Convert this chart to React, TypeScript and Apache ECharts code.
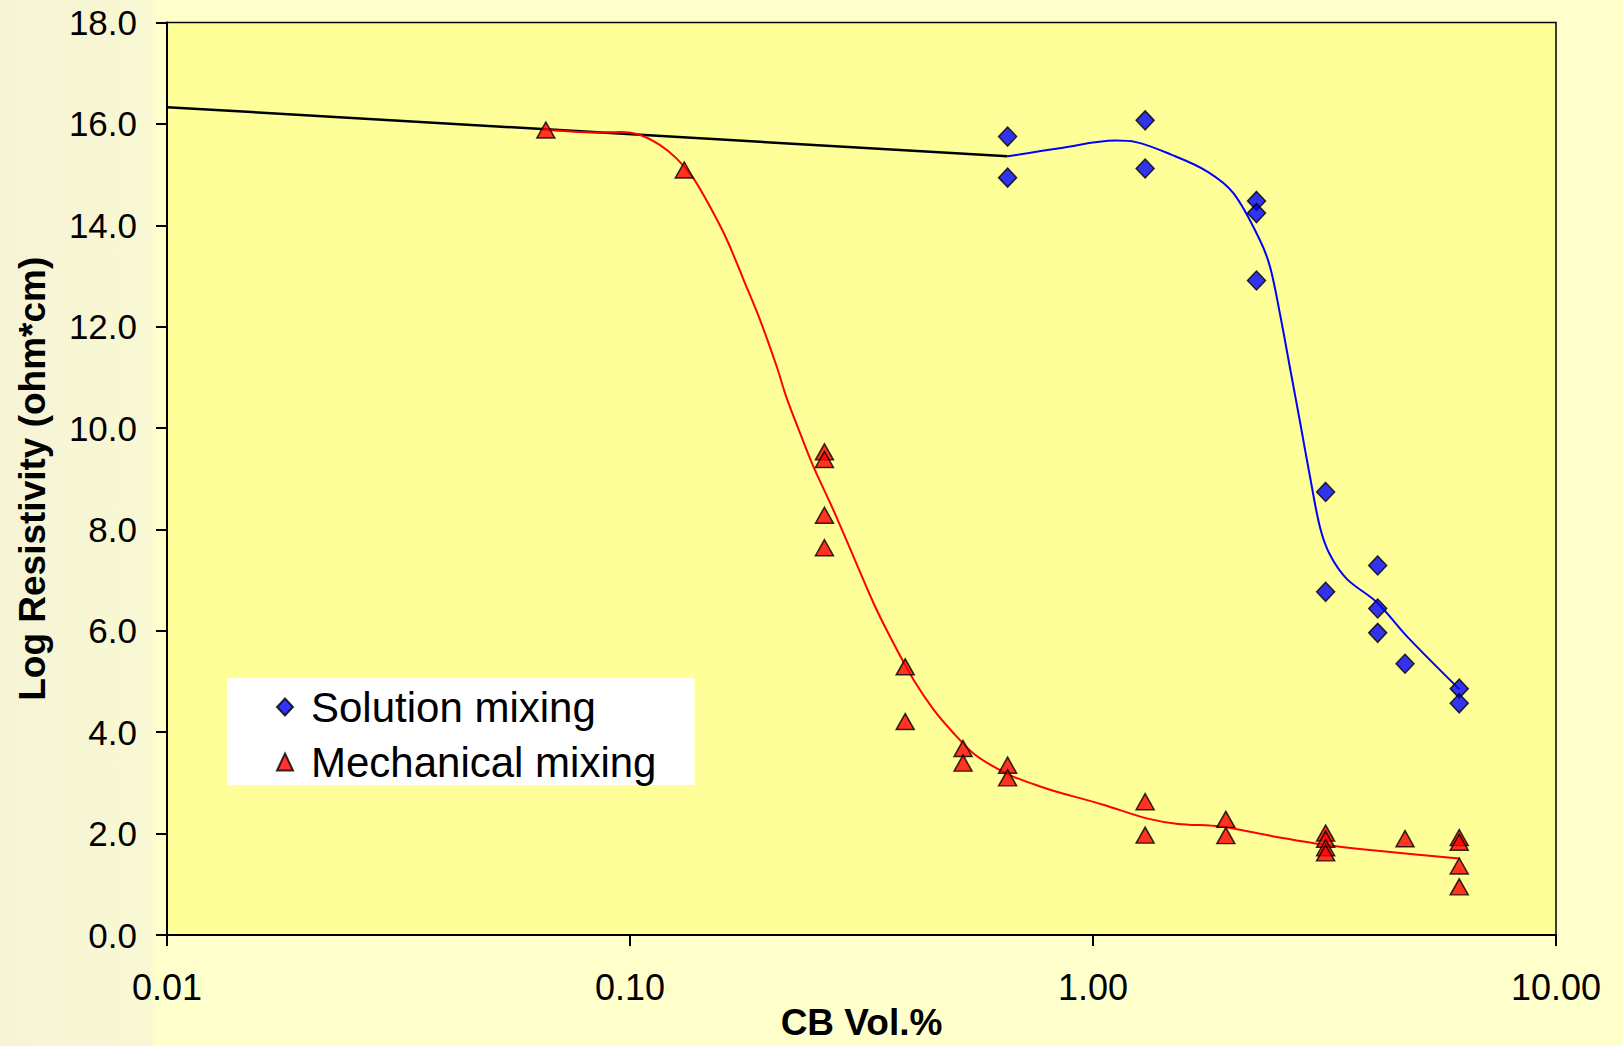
import React, { useEffect, useRef } from "react";
import * as echarts from "echarts";

// Solution mixing (diamonds)
const solutionX = [0.654, 0.654, 1.296, 1.296, 2.255, 2.255, 2.255, 3.18, 3.18, 4.12, 4.12, 4.12, 4.72, 6.18, 6.18];
const solutionY = [15.75, 14.94, 16.07, 15.12, 14.48, 14.24, 12.91, 8.74, 6.77, 7.29, 6.44, 5.96, 5.35, 4.86, 4.57];

// Mechanical mixing (triangles)
const mechX = [0.0658, 0.131, 0.263, 0.263, 0.263, 0.263, 0.393, 0.393, 0.524, 0.524, 0.654, 0.654, 1.296, 1.296, 1.936, 1.936, 3.18, 3.18, 3.18, 3.18, 4.72, 6.18, 6.18, 6.18, 6.18];
const mechY = [15.88, 15.09, 9.53, 9.38, 8.28, 7.64, 5.29, 4.21, 3.68, 3.39, 3.35, 3.10, 2.63, 1.97, 2.28, 1.96, 2.01, 1.89, 1.72, 1.62, 1.90, 1.92, 1.83, 1.36, 0.95];

// Black trend segment
const blackX = [0.01, 0.654];
const blackY = [16.33, 15.36];

// Blue fitted curve
const blueX = [0.654, 0.847, 1.119, 1.238, 1.479, 1.766, 2.012, 2.298, 2.415, 2.538, 2.667, 2.804, 2.945, 3.097, 3.254, 3.537, 4.106, 4.765, 6.18];
const blueY = [15.36, 15.52, 15.67, 15.64, 15.39, 15.06, 14.63, 13.69, 13.16, 12.22, 11.16, 10.09, 9.02, 8.02, 7.49, 7.02, 6.56, 5.89, 4.85];

// Red fitted curve
const redX = [0.0658, 0.0862, 0.0953, 0.1052, 0.1161, 0.126, 0.137, 0.149, 0.162, 0.176, 0.191, 0.2075, 0.218, 0.233, 0.249, 0.275, 0.304, 0.336, 0.371, 0.41, 0.453, 0.5, 0.552, 0.61, 0.674, 0.769, 0.86, 0.938, 1.06, 1.306, 1.528, 1.884, 2.44, 3.175, 4.12, 6.18];
const redY = [15.88, 15.83, 15.84, 15.78, 15.58, 15.32, 14.93, 14.36, 13.71, 12.92, 12.13, 11.21, 10.59, 9.9, 9.24, 8.38, 7.46, 6.54, 5.75, 5.03, 4.44, 3.98, 3.58, 3.32, 3.12, 2.93, 2.79, 2.7, 2.56, 2.3, 2.19, 2.14, 1.95, 1.78, 1.66, 1.51];

const xTicks = [0.01, 0.1, 1, 10];
const yMin = 0;
const yMax = 18;
const yStep = 2;

const zip = (xs: number[], ys: number[]) => xs.map((x, i) => [x, ys[i]]);

const FONT = "'Liberation Sans', Arial, sans-serif";

export default function App() {
  const ref = useRef<HTMLDivElement>(null);
  useEffect(() => {
    if (!ref.current) return;
    const chart = echarts.init(ref.current, null, { renderer: "svg" });
    chart.setOption({
      animation: false,
      backgroundColor: "transparent",
      grid: {
        left: 167,
        right: 67,
        top: 22.5,
        bottom: 111,
        containLabel: false,
        outerBoundsMode: "none",
        show: true,
        backgroundColor: "#FFFF99",
        borderColor: "#000",
        borderWidth: 1.5,
      },
      legend: {
        orient: "vertical",
        left: 227,
        top: 678,
        backgroundColor: "#FFFFFF",
        padding: [8, 38, 2, 49],
        itemWidth: 16,
        itemHeight: 17,
        itemGap: 13,
        textStyle: { fontSize: 42, fontFamily: FONT, color: "#000", padding: [0, 0, 0, 13] },
        data: ["Solution mixing", "Mechanical mixing"],
      },
      xAxis: {
        type: "log",
        logBase: 10,
        min: xTicks[0],
        max: xTicks[xTicks.length - 1],
        name: "CB Vol.%",
        nameLocation: "middle",
        nameMoveOverlap: false,
        nameGap: 69,
        nameTextStyle: { fontSize: 37, fontWeight: "bold", fontFamily: FONT, color: "#000" },
        axisLine: { show: true, onZero: false, lineStyle: { color: "#000", width: 2 } },
        axisTick: { show: true, inside: false, length: 11, lineStyle: { color: "#000", width: 2 } },
        minorTick: { show: false },
        splitLine: { show: false },
        axisLabel: {
          fontSize: 36,
          fontFamily: FONT,
          color: "#000",
          margin: 34,
          formatter: (v: number) => v.toFixed(2),
        },
      },
      yAxis: {
        type: "value",
        min: yMin,
        max: yMax,
        interval: yStep,
        name: "Log Resistivity (ohm*cm)",
        nameLocation: "middle",
        nameMoveOverlap: false,
        nameGap: 116,
        nameTextStyle: { fontSize: 37, fontWeight: "bold", fontFamily: FONT, color: "#000" },
        axisLine: { show: true, onZero: false, lineStyle: { color: "#000", width: 2 } },
        axisTick: { show: true, inside: false, length: 11, lineStyle: { color: "#000", width: 2 } },
        splitLine: { show: false },
        axisLabel: {
          fontSize: 35,
          fontFamily: FONT,
          color: "#000",
          margin: 30,
          formatter: (v: number) => v.toFixed(1),
        },
      },
      series: [
        {
          name: "black fit",
          type: "line",
          data: zip(blackX, blackY),
          showSymbol: false,
          symbol: "none",
          lineStyle: { color: "#000", width: 2.5 },
          z: 2,
          silent: true,
        },
        {
          name: "blue fit",
          type: "line",
          data: zip(blueX, blueY),
          smooth: 0.35,
          showSymbol: false,
          symbol: "none",
          lineStyle: { color: "#0000FF", width: 2 },
          z: 2,
          silent: true,
        },
        {
          name: "red fit",
          type: "line",
          data: zip(redX, redY),
          smooth: 0.3,
          showSymbol: false,
          symbol: "none",
          lineStyle: { color: "#FF0000", width: 2 },
          z: 2,
          silent: true,
        },
        {
          name: "Solution mixing",
          type: "scatter",
          symbol: "diamond",
          symbolSize: [18, 19],
          data: zip(solutionX, solutionY),
          itemStyle: { color: "#0000FF", borderColor: "#000", borderWidth: 1.5 },
          z: 3,
        },
        {
          name: "Mechanical mixing",
          type: "scatter",
          symbol: "triangle",
          symbolSize: [18, 16],
          data: zip(mechX, mechY),
          itemStyle: { color: "#FF0000", borderColor: "#000", borderWidth: 1.5 },
          z: 3,
        },
      ],
    });
    return () => chart.dispose();
  }, []);

  return (
    <div
      style={{
        position: "fixed",
        left: 0,
        top: 0,
        width: 1623,
        height: 1046,
        background: "linear-gradient(to right, #F6F4D6 0px, #F9F8D3 150px, #FFFFCC 156px, #FFFFCC 100%)",
      }}
    >
      <div ref={ref} style={{ width: 1623, height: 1046 }} />
    </div>
  );
}
